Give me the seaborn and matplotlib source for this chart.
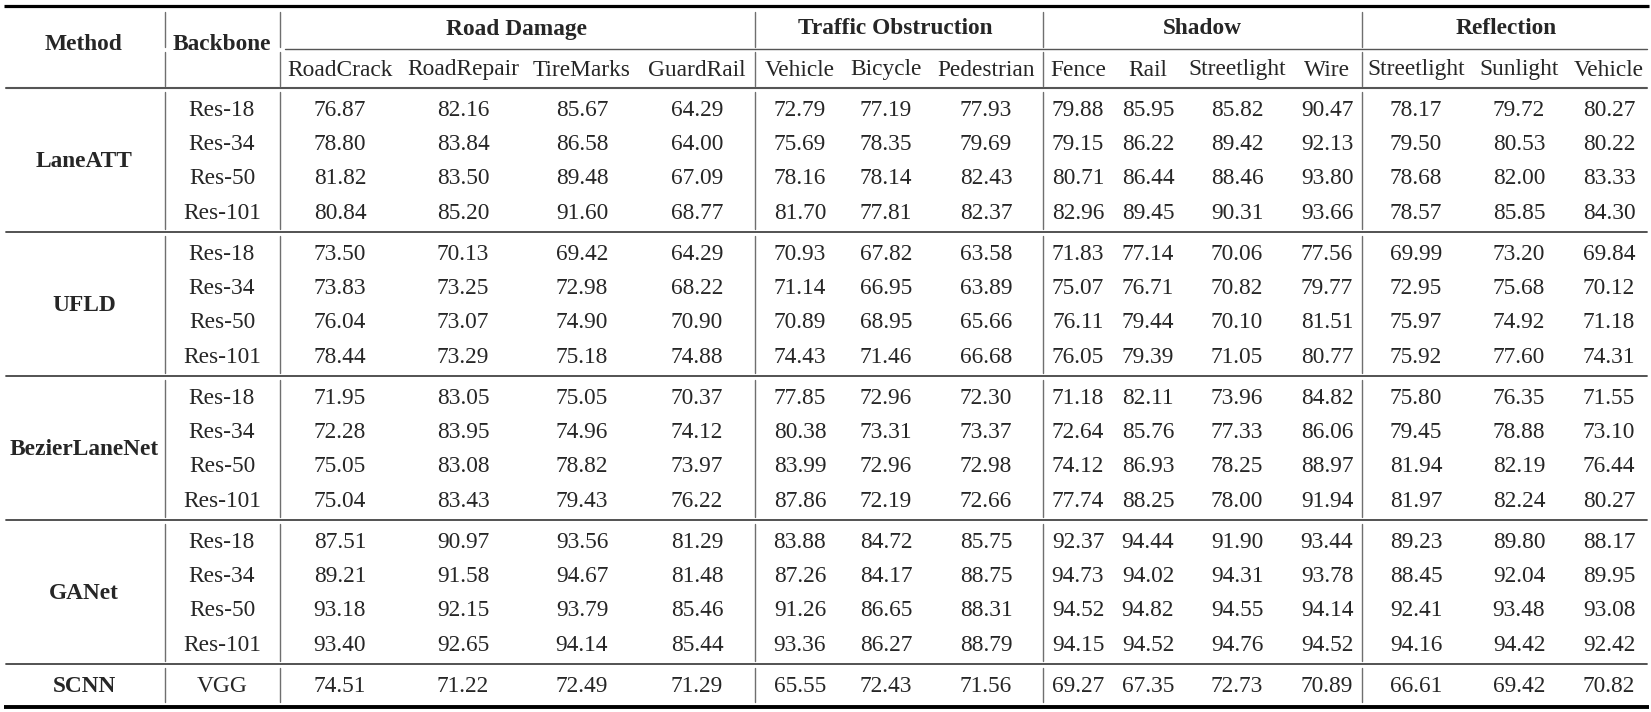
import numpy as np
import matplotlib.pyplot as plt
import seaborn as sns

# table content
methods = ["LaneATT", "UFLD", "BezierLaneNet", "GANet", "SCNN"]
backbones = [["Res-18", "Res-34", "Res-50", "Res-101"]] * 4 + [["VGG"]]
groups = ["Road Damage", "Traffic Obstruction", "Shadow", "Reflection"]
sub_cols = ["RoadCrack", "RoadRepair", "TireMarks", "GuardRail",
            "Vehicle", "Bicycle", "Pedestrian",
            "Fence", "Rail", "Streetlight", "Wire",
            "Streetlight", "Sunlight", "Vehicle"]

laneatt = [[76.87, 82.16, 85.67, 64.29, 72.79, 77.19, 77.93, 79.88, 85.95, 85.82, 90.47, 78.17, 79.72, 80.27],
           [78.80, 83.84, 86.58, 64.00, 75.69, 78.35, 79.69, 79.15, 86.22, 89.42, 92.13, 79.50, 80.53, 80.22],
           [81.82, 83.50, 89.48, 67.09, 78.16, 78.14, 82.43, 80.71, 86.44, 88.46, 93.80, 78.68, 82.00, 83.33],
           [80.84, 85.20, 91.60, 68.77, 81.70, 77.81, 82.37, 82.96, 89.45, 90.31, 93.66, 78.57, 85.85, 84.30]]
ufld = [[73.50, 70.13, 69.42, 64.29, 70.93, 67.82, 63.58, 71.83, 77.14, 70.06, 77.56, 69.99, 73.20, 69.84],
        [73.83, 73.25, 72.98, 68.22, 71.14, 66.95, 63.89, 75.07, 76.71, 70.82, 79.77, 72.95, 75.68, 70.12],
        [76.04, 73.07, 74.90, 70.90, 70.89, 68.95, 65.66, 76.11, 79.44, 70.10, 81.51, 75.97, 74.92, 71.18],
        [78.44, 73.29, 75.18, 74.88, 74.43, 71.46, 66.68, 76.05, 79.39, 71.05, 80.77, 75.92, 77.60, 74.31]]
bezier = [[71.95, 83.05, 75.05, 70.37, 77.85, 72.96, 72.30, 71.18, 82.11, 73.96, 84.82, 75.80, 76.35, 71.55],
          [72.28, 83.95, 74.96, 74.12, 80.38, 73.31, 73.37, 72.64, 85.76, 77.33, 86.06, 79.45, 78.88, 73.10],
          [75.05, 83.08, 78.82, 73.97, 83.99, 72.96, 72.98, 74.12, 86.93, 78.25, 88.97, 81.94, 82.19, 76.44],
          [75.04, 83.43, 79.43, 76.22, 87.86, 72.19, 72.66, 77.74, 88.25, 78.00, 91.94, 81.97, 82.24, 80.27]]
ganet = [[87.51, 90.97, 93.56, 81.29, 83.88, 84.72, 85.75, 92.37, 94.44, 91.90, 93.44, 89.23, 89.80, 88.17],
         [89.21, 91.58, 94.67, 81.48, 87.26, 84.17, 88.75, 94.73, 94.02, 94.31, 93.78, 88.45, 92.04, 89.95],
         [93.18, 92.15, 93.79, 85.46, 91.26, 86.65, 88.31, 94.52, 94.82, 94.55, 94.14, 92.41, 93.48, 93.08],
         [93.40, 92.65, 94.14, 85.44, 93.36, 86.27, 88.79, 94.15, 94.52, 94.76, 94.52, 94.16, 94.42, 92.42]]
scnn = [[74.51, 71.22, 72.49, 71.29, 65.55, 72.43, 71.56, 69.27, 67.35, 72.73, 70.89, 66.61, 69.42, 70.82]]
values = [laneatt, ufld, bezier, ganet, scnn]

# layout (pixels)
W, H = 1651, 712
col_x = [84, 222, 340, 463, 582, 697, 800, 886, 986, 1078, 1148, 1237, 1327, 1416, 1519, 1609]
group_x = [517, 895, 1202, 1506]
vlines = [165, 280, 755, 1043, 1362]
left, right = 4, 1649
head_bottom = 88
row_pitch = 34.5
line_col = "#6f6f6f"

sns.set_theme(style="white")
plt.rcParams['font.family'] = ['Liberation Serif', 'DejaVu Serif']

fig = plt.figure(figsize=(W / 100, H / 100), dpi=100)
ax = fig.add_axes([0, 0, 1, 1])
ax.set_xlim(0, W)
ax.set_ylim(H, 0)
ax.axis("off")

fs = 16.8
# header
ax.text(col_x[0], 44, "Method", ha="center", va="center", fontsize=fs, fontweight="bold")
ax.text(col_x[1], 44, "Backbone", ha="center", va="center", fontsize=fs, fontweight="bold")
for g, gx in zip(groups, group_x):
    ax.text(gx, 29, g, ha="center", va="center", fontsize=fs, fontweight="bold")
for j, c in enumerate(sub_cols):
    ax.text(col_x[j + 2], 70, c, ha="center", va="center", fontsize=fs)

# rules
ax.plot([left, right], [6, 6], color="black", lw=2.3, solid_capstyle="butt")
ax.plot([vlines[1] + 5, right - 2], [49, 49], color="#555555", lw=1.0)
ax.plot([left + 2, right - 2], [head_bottom, head_bottom], color="#555555", lw=1.5)
for vx in vlines:
    ax.plot([vx, vx], [12, 46.5], color=line_col, lw=1.0)
    ax.plot([vx, vx], [52, 86], color=line_col, lw=1.0)

# body
start = head_bottom
for mi, m in enumerate(methods):
    rows = values[mi]
    n = len(rows)
    ys = [start + 22 + i * row_pitch for i in range(n)]
    end = ys[-1] + 18.5
    ax.text(col_x[0], np.mean(ys), m, ha="center", va="center", fontsize=fs, fontweight="bold")
    for i, r in enumerate(rows):
        ax.text(col_x[1], ys[i], backbones[mi][i], ha="center", va="center", fontsize=fs)
        for j, v in enumerate(r):
            ax.text(col_x[j + 2], ys[i], f"{v:.2f}", ha="center", va="center", fontsize=fs)
    for vx in vlines:
        ax.plot([vx, vx], [start + 4, end - 3], color=line_col, lw=1.0)
    if mi < len(methods) - 1:
        ax.plot([left + 2, right - 2], [end, end], color="#444444", lw=1.3)
    start = end

ax.plot([left, right], [start + 2, start + 2], color="black", lw=2.8, solid_capstyle="butt")

fig.savefig("out.png", dpi=100)
